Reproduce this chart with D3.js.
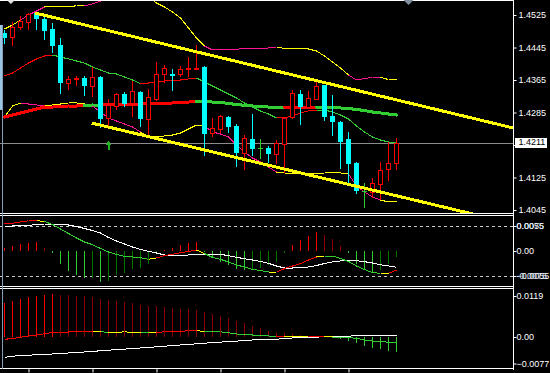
<!DOCTYPE html>
<html>
<head>
<meta charset="utf-8">
<script src="https://cdn.jsdelivr.net/npm/d3@7"></script>
<style>
body{margin:0;background:#000;}
svg{display:block;}
text{font-family:"Liberation Sans",Arial,sans-serif;font-size:9px;}
</style>
</head>
<body>
<svg id="chart" width="550" height="373"></svg>
<script>

//////////// prix (bougies)
var open = [1.4481,1.4471,1.4496,1.4508,1.4530,1.4515,1.4491,1.4451,1.4358,1.4368,
	1.4370,1.4350,1.4372,1.4272,1.4301,1.4331,1.4308,1.4336,1.4269,1.4318,
	1.4380,1.4380,1.4380,1.4392,1.4394,1.4397,1.4235,1.4244,1.4274,1.4252,
	1.4185,1.4220,1.4198,1.4198,1.4183,1.4208,1.4274,1.4331,1.4299,1.4318,
	1.4353,1.4276,1.4262,1.4220,1.4161,1.4092,1.4089,1.4109,1.4146,1.4161];
var high = [1.4488,1.4508,1.4523,1.4530,1.4532,1.4528,1.4505,1.4468,1.4375,1.4375,
	1.4375,1.4397,1.4375,1.4318,1.4333,1.4336,1.4363,1.4338,1.4343,1.4409,
	1.4402,1.4392,1.4400,1.4422,1.4451,1.4400,1.4272,1.4279,1.4276,1.4257,
	1.4230,1.4281,1.4220,1.4203,1.4217,1.4274,1.4340,1.4340,1.4338,1.4368,
	1.4353,1.4328,1.4264,1.4237,1.4163,1.4112,1.4124,1.4163,1.4212,1.4222];
var low = [1.4456,1.4451,1.4491,1.4491,1.4491,1.4466,1.4434,1.4333,1.4343,1.4353,
	1.4328,1.4326,1.4249,1.4252,1.4294,1.4301,1.4276,1.4252,1.4225,1.4316,
	1.4360,1.4340,1.4375,1.4375,1.4392,1.4180,1.4227,1.4237,1.4237,1.4153,
	1.4146,1.4180,1.4173,1.4163,1.4161,1.4139,1.4272,1.4257,1.4299,1.4318,
	1.4267,1.4230,1.4148,1.4107,1.4087,1.4052,1.4077,1.4072,1.4119,1.4146];
var close = [1.4468,1.4496,1.4510,1.4528,1.4515,1.4486,1.4449,1.4358,1.4368,1.4370,
	1.4350,1.4372,1.4269,1.4304,1.4331,1.4306,1.4338,1.4269,1.4323,1.4380,
	1.4395,1.4375,1.4392,1.4395,1.4395,1.4232,1.4247,1.4276,1.4249,1.4185,
	1.4222,1.4195,1.4198,1.4183,1.4210,1.4272,1.4333,1.4299,1.4321,1.4350,
	1.4274,1.4262,1.4212,1.4158,1.4092,1.4092,1.4112,1.4144,1.4161,1.4211];
var lastPrice = 1.4211;

//////////// bandes
var bbUpper = [1.44905,1.45004,1.45127,1.45250,1.45348,1.45447,1.45459,1.45464,1.45469,1.45472,
	1.45472,1.45521,1.45595,1.45668,1.45718,1.45742,1.45767,1.45779,1.45693,1.45545,
	1.45447,1.45324,1.45176,1.44930,1.44684,1.44487,1.44389,1.44396,1.44403,1.44411,
	1.44418,1.44425,1.44433,1.44438,1.44443,1.44435,1.44428,1.44420,1.44413,1.44364,
	1.44241,1.44093,1.43945,1.43773,1.43650,1.43687,1.43712,1.43712,1.43662,1.43662];
var bbMiddle = [1.43748,1.43822,1.43945,1.44068,1.44167,1.44241,1.44265,1.44216,1.44167,1.44118,
	1.44068,1.43970,1.43896,1.43822,1.43798,1.43724,1.43650,1.43564,1.43576,1.43601,
	1.43625,1.43650,1.43650,1.43675,1.43699,1.43601,1.43502,1.43404,1.43305,1.43207,
	1.43084,1.42985,1.42887,1.42813,1.42715,1.42715,1.42764,1.42838,1.42887,1.42911,
	1.42911,1.42862,1.42788,1.42690,1.42518,1.42370,1.42247,1.42173,1.42124,1.42099];
var bbLower = [1.42739,1.43010,1.43084,1.43059,1.43035,1.43010,1.43035,1.43059,1.43084,1.43084,
	1.43059,1.43010,1.42862,1.42715,1.42641,1.42567,1.42493,1.42370,1.42247,1.42247,
	1.42272,1.42296,1.42345,1.42444,1.42542,1.42518,1.42370,1.42321,1.42247,1.42050,
	1.41878,1.41730,1.41632,1.41509,1.41385,1.41361,1.41356,1.41353,1.41353,1.41356,
	1.41361,1.41361,1.41361,1.41336,1.41041,1.40893,1.40770,1.40696,1.40647,1.40647];
// E = bande qui s'ouvre, C = bande qui se resserre
var bbState = "CCC" + "EEE" + "CCCCC" + "EEEEEEE" + "CCCCCCCC" + "EEEEEEEEE" + "CCCCCCCCC" + "EEEE" + "CC";
var midState = "RRRRRRR" + "GGGGGGGGGGG" + "RRRRRRR" + "GGGGGGGGGG" + "RRRRR" + "GGGGGGGGGG";

//////////// moyenne epaisse
var maThick = [1.42739,1.42788,1.42838,1.42887,1.42936,1.42985,1.42985,1.42998,1.43010,1.43010,
	1.43022,1.43035,1.43030,1.43047,1.43052,1.43054,1.43059,1.43059,1.43064,1.43072,
	1.43076,1.43084,1.43096,1.43108,1.43121,1.43113,1.43108,1.43096,1.43072,1.43047,
	1.43027,1.43010,1.42998,1.42985,1.42980,1.42978,1.42980,1.42983,1.42985,1.42985,
	1.42978,1.42971,1.42961,1.42948,1.42924,1.42899,1.42862,1.42838,1.42813,1.42788];
var maState = "RRRRRRRRRRR" + "GG" + "RRRRRRRRRRRR" + "GGGGGGGGGGG" + "RRRR" + "GGGGGGGGGG";

//////////// canal (bar, prix)
var channelUpper = [[3.8, 1.4530], [49, 1.4316]];
var channelLower = [[10.9, 1.4259], [49, 1.4080]];
var arrowsUp = [[13, 1.4215]];

//////////// panneau 2
var p2Hist = [0.00059,0.00110,0.00154,0.00176,0.00190,0.00059,-0.00037,-0.00279,-0.00440,-0.00528,
	-0.00587,-0.00583,-0.00675,-0.00653,-0.00528,-0.00484,-0.00396,-0.00374,-0.00286,-0.00044,
	0.00022,0.00073,0.00132,0.00183,0.00205,-0.00030,-0.00154,-0.00235,-0.00308,-0.00396,
	-0.00418,-0.00414,-0.00381,-0.00308,-0.00249,-0.00051,0.00132,0.00242,0.00330,0.00411,
	0.00352,0.00264,0.00110,-0.00051,-0.00293,-0.00418,-0.00469,-0.00418,-0.00293,-0.00125];
var p2Main = [0.00594,0.00609,0.00638,0.00667,0.00667,0.00649,0.00583,0.00484,0.00385,0.00286,
	0.00198,0.00139,0.00055,-0.00022,-0.00077,-0.00117,-0.00132,-0.00147,-0.00183,-0.00154,
	-0.00099,-0.00073,-0.00037,-0.00011,0.00022,-0.00055,-0.00143,-0.00183,-0.00242,-0.00308,
	-0.00352,-0.00403,-0.00429,-0.00462,-0.00469,-0.00385,-0.00330,-0.00275,-0.00198,-0.00132,
	-0.00110,-0.00110,-0.00165,-0.00231,-0.00330,-0.00407,-0.00477,-0.00491,-0.00491,-0.00418];
var p2Signal = [0.00550,0.00550,0.00557,0.00565,0.00579,0.00594,0.00594,0.00594,0.00572,0.00539,
	0.00495,0.00451,0.00396,0.00297,0.00220,0.00154,0.00088,0.00033,-0.00007,-0.00044,
	-0.00088,-0.00110,-0.00099,-0.00088,-0.00077,-0.00073,-0.00073,-0.00073,-0.00103,-0.00139,
	-0.00169,-0.00198,-0.00231,-0.00271,-0.00330,-0.00374,-0.00374,-0.00367,-0.00352,-0.00319,
	-0.00275,-0.00242,-0.00220,-0.00213,-0.00213,-0.00235,-0.00264,-0.00301,-0.00330,-0.00359];
var p2State = "RRRRR" + "Y" + "GGGGGGGGGGGGG" + "Y" + "RRRRR" + "Y" + "GGGGGGGG" + "Y" + "RRRRR" + "Y" + "GGGGGGG" + "Y" + "R";
var p2Levels = [0.0055, -0.0055];
var p2Ticks = [0.0055, 0, -0.0055];
var p2Range = ["0.0075", "-0.0075"];

//////////// panneau 3
var p3Hist = [0.00978,0.01045,0.01103,0.01152,0.01190,0.01219,0.01239,0.01219,0.01210,0.01190,
	0.01181,0.01152,0.01103,0.01074,0.01045,0.01007,0.00978,0.00929,0.00900,0.00891,
	0.00862,0.00842,0.00813,0.00804,0.00784,0.00717,0.00668,0.00610,0.00552,0.00464,
	0.00415,0.00319,0.00270,0.00183,0.00125,0.00107,0.00078,0.00058,0.00038,0.00020,
	0.00015,-0.00015,-0.00067,-0.00107,-0.00183,-0.00253,-0.00328,-0.00348,-0.00398,-0.00427];
var p3Main = [-0.00067,-0.00044,-0.00009,0.00029,0.00058,0.00096,0.00131,0.00136,0.00145,0.00151,
	0.00154,0.00154,0.00154,0.00131,0.00125,0.00154,0.00125,0.00125,0.00125,0.00125,
	0.00154,0.00154,0.00160,0.00183,0.00183,0.00160,0.00154,0.00151,0.00125,0.00087,
	0.00087,0.00058,0.00044,0.00029,0.00009,0.00015,0.00009,0.00015,0.00029,0.00029,
	0.00020,0.00000,-0.00009,-0.00020,-0.00038,-0.00087,-0.00116,-0.00125,-0.00154,-0.00154];
var p3Signal = [-0.00589,-0.00560,-0.00537,-0.00528,-0.00517,-0.00505,-0.00493,-0.00479,-0.00464,-0.00450,
	-0.00435,-0.00421,-0.00398,-0.00383,-0.00366,-0.00351,-0.00337,-0.00319,-0.00305,-0.00284,
	-0.00267,-0.00250,-0.00232,-0.00218,-0.00197,-0.00180,-0.00163,-0.00148,-0.00134,-0.00119,
	-0.00105,-0.00087,-0.00073,-0.00067,-0.00064,-0.00046,-0.00029,-0.00015,-0.00009,-0.00003,
	0.00006,0.00009,0.00012,0.00020,0.00046,0.00049,0.00049,0.00049,0.00052,0.00052];
var p3State = "RRRRRRRRRRRR" + "Y" + "G" + "YYYY" + "G" + "Y" + "RRRRR" + "Y" + "GGGGGGGGG" + "R" + "YYY" + "RR" + "Y" + "GGGGGGGG";
var p3Ticks = [0.0119, 0, -0.0077];

var mainTicks = [1.4525, 1.4445, 1.4365, 1.4285, 1.4205, 1.4125, 1.4045];
var xTicks = [3, 11, 19, 27, 35, 43];


//////////////////////////////////////// construction du graphique
var svg = d3.select("#chart");
var WIDTH = 550, HEIGHT = 373, AXE_X = 513.5;

svg.append("rect").attr("width", WIDTH).attr("height", HEIGHT).attr("fill", "#000");

var n = open.length;
var xScale = d3.scaleLinear().domain([0, n - 1]).range([4.5, 396.5]);
var yMain = d3.scaleLinear().domain([1.4045, 1.4525]).range([210, 15]);
var yP2 = d3.scaleLinear().domain([-0.0055, 0.0055]).range([276, 226]);
var yP3 = d3.scaleLinear().domain([0, 0.0119]).range([337, 296]);

var colors = {R: "#ff0000", G: "#32cd32", Y: "#ffff00", E: "#ff1493", C: "#ffff00"};

svg.append("defs").append("clipPath").attr("id", "clipMain")
	.append("rect").attr("x", 0).attr("y", 1).attr("width", 513).attr("height", 212);

// ligne brisee coloree segment par segment
function segLine(g, values, states, y, width){
	var segs = d3.range(1, values.length);
	g.append("g").selectAll("line").data(segs).enter().append("line")
		.attr("x1", function(i){ return xScale(i - 1); })
		.attr("y1", function(i){ return y(values[i - 1]); })
		.attr("x2", function(i){ return xScale(i); })
		.attr("y2", function(i){ return y(values[i]); })
		.attr("stroke", function(i){ return colors[states[i]]; })
		.attr("stroke-width", width)
		.attr("stroke-linecap", width > 1 ? "round" : "butt");
}

function plainLine(g, values, y, color){
	var line = d3.line()
		.x(function(d, i){ return xScale(i); })
		.y(function(d){ return y(d); });
	g.append("path").attr("d", line(values))
		.attr("fill", "none").attr("stroke", color).attr("stroke-width", 1);
}

// barres d'histogramme, vives quand elles grandissent
function histo(g, values, y, bright, dark){
	g.append("g").selectAll("line").data(d3.range(values.length)).enter().append("line")
		.attr("x1", function(i){ return xScale(i); })
		.attr("x2", function(i){ return xScale(i); })
		.attr("y1", y(0))
		.attr("y2", function(i){ return y(values[i]); })
		.attr("stroke", function(i){
			var v = values[i], p = i > 0 ? values[i - 1] : 0;
			var up = i == 0 || (v > 0) != (p > 0) || Math.abs(v) > Math.abs(p);
			return v >= 0 ? (up ? bright[0] : dark[0]) : (up ? bright[1] : dark[1]);
		})
		.attr("stroke-width", 1);
}

var all = svg.append("g").attr("shape-rendering", "crispEdges");

/////////////// panneau principal
var main = all.append("g").attr("clip-path", "url(#clipMain)");

// ligne du prix courant
var yLast = Math.round(yMain(lastPrice)) + 0.5;
main.append("line").attr("x1", 0).attr("x2", 513).attr("y1", yLast).attr("y2", yLast)
	.attr("stroke", "#8c8c8c");

segLine(main, bbUpper, bbState, yMain, 1);
segLine(main, bbLower, bbState, yMain, 1);
segLine(main, bbMiddle, midState, yMain, 1);
segLine(main, maThick, maState, yMain, 3);

// bougies
var bougies = main.append("g").selectAll("g").data(d3.range(n)).enter().append("g");

function couleurBougie(i){
	if(close[i] == open[i]) return "#32cd32";
	return close[i] > open[i] ? "#ff0000" : "#00ffff";
}

bougies.append("line")
	.attr("x1", function(i){ return xScale(i); })
	.attr("x2", function(i){ return xScale(i); })
	.attr("y1", function(i){ return Math.round(yMain(high[i])); })
	.attr("y2", function(i){ return Math.round(yMain(low[i])) + 1; })
	.attr("stroke", couleurBougie);

bougies.each(function(i){
	var g = d3.select(this);
	var cx = xScale(i);
	var yo = Math.round(yMain(open[i]));
	var yc = Math.round(yMain(close[i]));
	if(close[i] == open[i]){
		g.append("line").attr("x1", cx - 2.5).attr("x2", cx + 2.5)
			.attr("y1", yo + 0.5).attr("y2", yo + 0.5).attr("stroke", "#32cd32");
	} else if(close[i] > open[i]){
		g.append("rect").attr("x", cx - 2).attr("y", yc + 0.5)
			.attr("width", 4).attr("height", Math.max(1, yo - yc))
			.attr("fill", "#000").attr("stroke", "#ff0000");
	} else {
		g.append("rect").attr("x", cx - 2.5).attr("y", yo)
			.attr("width", 5).attr("height", Math.max(1, yc - yo))
			.attr("fill", "#00ffff");
	}
});

// canal jaune, prolonge vers la droite
[channelUpper, channelLower].forEach(function(c){
	var x1 = xScale(c[0][0]), y1 = yMain(c[0][1]);
	var x2 = xScale(c[1][0]), y2 = yMain(c[1][1]);
	var pente = (y2 - y1) / (x2 - x1);
	main.append("line").attr("x1", x1).attr("y1", y1)
		.attr("x2", 513).attr("y2", y1 + (513 - x1) * pente)
		.attr("stroke", "#ffff00").attr("stroke-width", 3);
});

// fleche verte
main.selectAll("path.fleche").data(arrowsUp).enter().append("path")
	.attr("class", "fleche")
	.attr("d", function(a){
		var cx = xScale(a[0]), t = Math.round(yMain(a[1]));
		return "M" + cx + "," + t + "L" + (cx + 3) + "," + (t + 4) + "L" + (cx + 1) + "," + (t + 4)
			+ "L" + (cx + 1) + "," + (t + 9) + "L" + (cx - 1) + "," + (t + 9) + "L" + (cx - 1) + "," + (t + 4)
			+ "L" + (cx - 3) + "," + (t + 4) + "Z";
	})
	.attr("fill", "#22b422");

// petits triangles en haut
svg.append("path").attr("d", "M" + (xScale(0.8) - 4) + ",0L" + (xScale(0.8) + 4) + ",0L" + xScale(0.8) + ",4Z")
	.attr("fill", "#e6e6e6");
svg.append("path").attr("d", "M" + (xScale(n + 0.5) - 5) + ",0L" + (xScale(n + 0.5) + 5) + ",0L" + xScale(n + 0.5) + ",5Z")
	.attr("fill", "#8090a0");

/////////////// panneau 2
var p2 = all.append("g");
p2.selectAll("line.niveau").data(p2Levels).enter().append("line")
	.attr("class", "niveau")
	.attr("x1", 0).attr("x2", 513)
	.attr("y1", function(d){ return Math.round(yP2(d)) + 0.5; })
	.attr("y2", function(d){ return Math.round(yP2(d)) + 0.5; })
	.attr("stroke", "#c8c8c8").attr("stroke-dasharray", "3,3");
histo(p2, p2Hist, yP2, ["#ff0000", "#32cd32"], ["#8b0000", "#007800"]);
plainLine(p2, p2Signal, yP2, "#ffffff");
segLine(p2, p2Main, p2State, yP2, 1);

/////////////// panneau 3
var p3 = all.append("g");
histo(p3, p3Hist, yP3, ["#ff0000", "#32cd32"], ["#8b0000", "#007800"]);
plainLine(p3, p3Signal, yP3, "#ffffff");
segLine(p3, p3Main, p3State, yP3, 1);

/////////////// cadres
var cadre = all.append("g").attr("stroke", "#ffffff");
[0.5, 213.5, 215.5, 286.5, 288.5, 368.5].forEach(function(y){
	cadre.append("line").attr("x1", 0).attr("x2", AXE_X).attr("y1", y).attr("y2", y);
});
cadre.append("line").attr("x1", AXE_X).attr("x2", AXE_X).attr("y1", 0).attr("y2", 370);

svg.append("rect").attr("x", 0).attr("y", 25).attr("width", 2).attr("height", 85).attr("fill", "#9cc3e0");
all.append("line").attr("x1", 2.5).attr("x2", 2.5).attr("y1", 25).attr("y2", 369).attr("stroke", "#7f9db9");

/////////////// axes
function styleAxe(g){
	g.select(".domain").remove();
	g.selectAll(".tick line").attr("stroke", "#ffffff");
	g.selectAll(".tick text").attr("fill", "#ffffff").attr("font-family", null).attr("font-size", null);
}

svg.append("g").attr("transform", "translate(" + AXE_X + ",0)")
	.call(d3.axisRight(yMain).tickValues(mainTicks).tickSize(3).tickPadding(2).tickFormat(d3.format(".4f")))
	.call(styleAxe);

svg.append("g").attr("transform", "translate(" + AXE_X + ",0)")
	.call(d3.axisRight(yP2).tickValues(p2Ticks).tickSize(3).tickPadding(0)
		.tickFormat(function(d){ return d == 0 ? "0.00" : d3.format(".4f")(d); }))
	.call(styleAxe);

// etiquettes du max/min qui se chevauchent avec les niveaux
svg.selectAll("text.range").data(p2Range).enter().append("text")
	.attr("class", "range")
	.attr("x", AXE_X + 3)
	.attr("y", function(d, i){ return yP2(p2Levels[i]); })
	.attr("dy", "0.32em")
	.attr("fill", "#dce8ff")
	.text(function(d){ return d; });

svg.append("g").attr("transform", "translate(" + AXE_X + ",0)")
	.call(d3.axisRight(yP3).tickValues(p3Ticks).tickSize(3).tickPadding(0)
		.tickFormat(function(d){ return d == 0 ? "0.00" : d3.format(".4f")(d); }))
	.call(styleAxe);

svg.append("g").attr("transform", "translate(0,368.5)")
	.call(d3.axisBottom(xScale).tickValues(xTicks).tickSize(4).tickFormat(""))
	.call(styleAxe);

// etiquette du dernier prix
var yl = Math.round(yMain(lastPrice));
svg.append("rect").attr("x", 515).attr("y", yl - 5).attr("width", 32).attr("height", 10).attr("fill", "#ffffff");
svg.append("text").attr("x", AXE_X + 5).attr("y", yMain(lastPrice)).attr("dy", "0.32em")
	.attr("fill", "#000000").text(d3.format(".4f")(lastPrice));

</script>
</body>
</html>
